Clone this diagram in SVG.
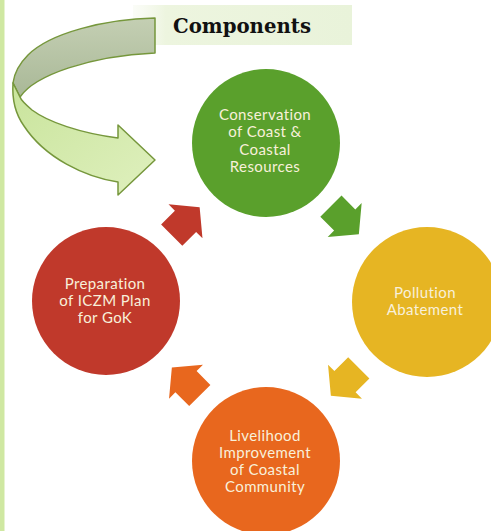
<svg xmlns="http://www.w3.org/2000/svg" width="491" height="531" viewBox="0 0 491 531">
  <style>
    .lbl { font-family: Lato, "Open Sans", "DejaVu Sans", sans-serif; font-size: 15px; letter-spacing: 0.4px; fill: #f8f0da; text-anchor: middle; }
    .title { font-family: "DejaVu Serif", "Liberation Serif", serif; font-weight: bold; font-size: 20px; fill: #111; }
    .ribbon { stroke: #76973c; stroke-width: 1.5; stroke-linejoin: round; }
  </style>
  <defs>
    <!-- block arrow pointing along +x, origin at the head base -->
    <polygon id="blk" points="-19.5,-15 0,-15 0,-24 20,0 0,24 0,15 -19.5,15"/>
    <linearGradient id="back" x1="0" y1="0" x2="0" y2="1">
      <stop offset="0" stop-color="#c4cfb3"/>
      <stop offset="1" stop-color="#a9b897"/>
    </linearGradient>
    <linearGradient id="front" x1="0" y1="0" x2="1" y2="1">
      <stop offset="0" stop-color="#c9e49c"/>
      <stop offset="1" stop-color="#dff0be"/>
    </linearGradient>
    <linearGradient id="band" x1="0" y1="0" x2="1" y2="0">
      <stop offset="0" stop-color="#f4f8ec" stop-opacity="0.4"/>
      <stop offset="0.15" stop-color="#edf5df"/>
      <stop offset="1" stop-color="#e9f3da"/>
    </linearGradient>
  </defs>

  <rect width="491" height="531" fill="#ffffff"/>
  <!-- side strip -->
  <rect x="0" y="0" width="4.5" height="531" fill="#cfe8a2"/>

  <!-- heading -->
  <g id="title">
    <rect x="133" y="5" width="219" height="40" fill="url(#band)"/>
    <text class="title" x="173" y="33" textLength="138" lengthAdjust="spacingAndGlyphs">Components</text>
  </g>

  <g id="connectors">
    <!-- curved ribbon arrow from the heading -->
    <g id="ribbon-arrow" class="ribbon">
      <path d="M155,18 C105,19 50,33 28,55 C18,65 14,75 13,83 L20,97 C35,75 90,56 155,53 Z" fill="url(#back)"/>
      <path d="M13,83 C12,98 14,112 24,126 C45,158 85,177 118,182 L118,195 L155,160 L118,125 L118,138 C80,133 48,122 32,110 C25,104 21,100 20,97 Z" fill="url(#front)"/>
    </g>
    <use href="#blk" transform="translate(344.7,220) rotate(45)" fill="#5aa02c"/>
    <use href="#blk" transform="translate(345,381.7) rotate(135)" fill="#e6b523"/>
    <use href="#blk" transform="translate(186,381.7) rotate(-135)" fill="#e8671e"/>
    <use href="#blk" transform="translate(185.5,221.3) rotate(-45)" fill="#c0392b"/>
  </g>

  <g id="conservation">
    <circle cx="266" cy="143" r="74" fill="#5aa02c"/>
    <text class="lbl" x="265" y="120">Conservation</text>
    <text class="lbl" x="265" y="137">of Coast &amp;</text>
    <text class="lbl" x="265" y="155">Coastal</text>
    <text class="lbl" x="265" y="172">Resources</text>
  </g>

  <g id="pollution">
    <circle cx="427" cy="302" r="75" fill="#e6b523"/>
    <text class="lbl" x="425" y="298">Pollution</text>
    <text class="lbl" x="425" y="315">Abatement</text>
  </g>

  <g id="livelihood">
    <circle cx="266" cy="461" r="74" fill="#e8671e"/>
    <text class="lbl" x="265" y="441">Livelihood</text>
    <text class="lbl" x="265" y="458">Improvement</text>
    <text class="lbl" x="265" y="475">of Coastal</text>
    <text class="lbl" x="265" y="492">Community</text>
  </g>

  <g id="iczm-plan">
    <circle cx="106" cy="301" r="74" fill="#c0392b"/>
    <text class="lbl" x="105" y="289">Preparation</text>
    <text class="lbl" x="105" y="306">of ICZM Plan</text>
    <text class="lbl" x="105" y="323">for GoK</text>
  </g>
</svg>
